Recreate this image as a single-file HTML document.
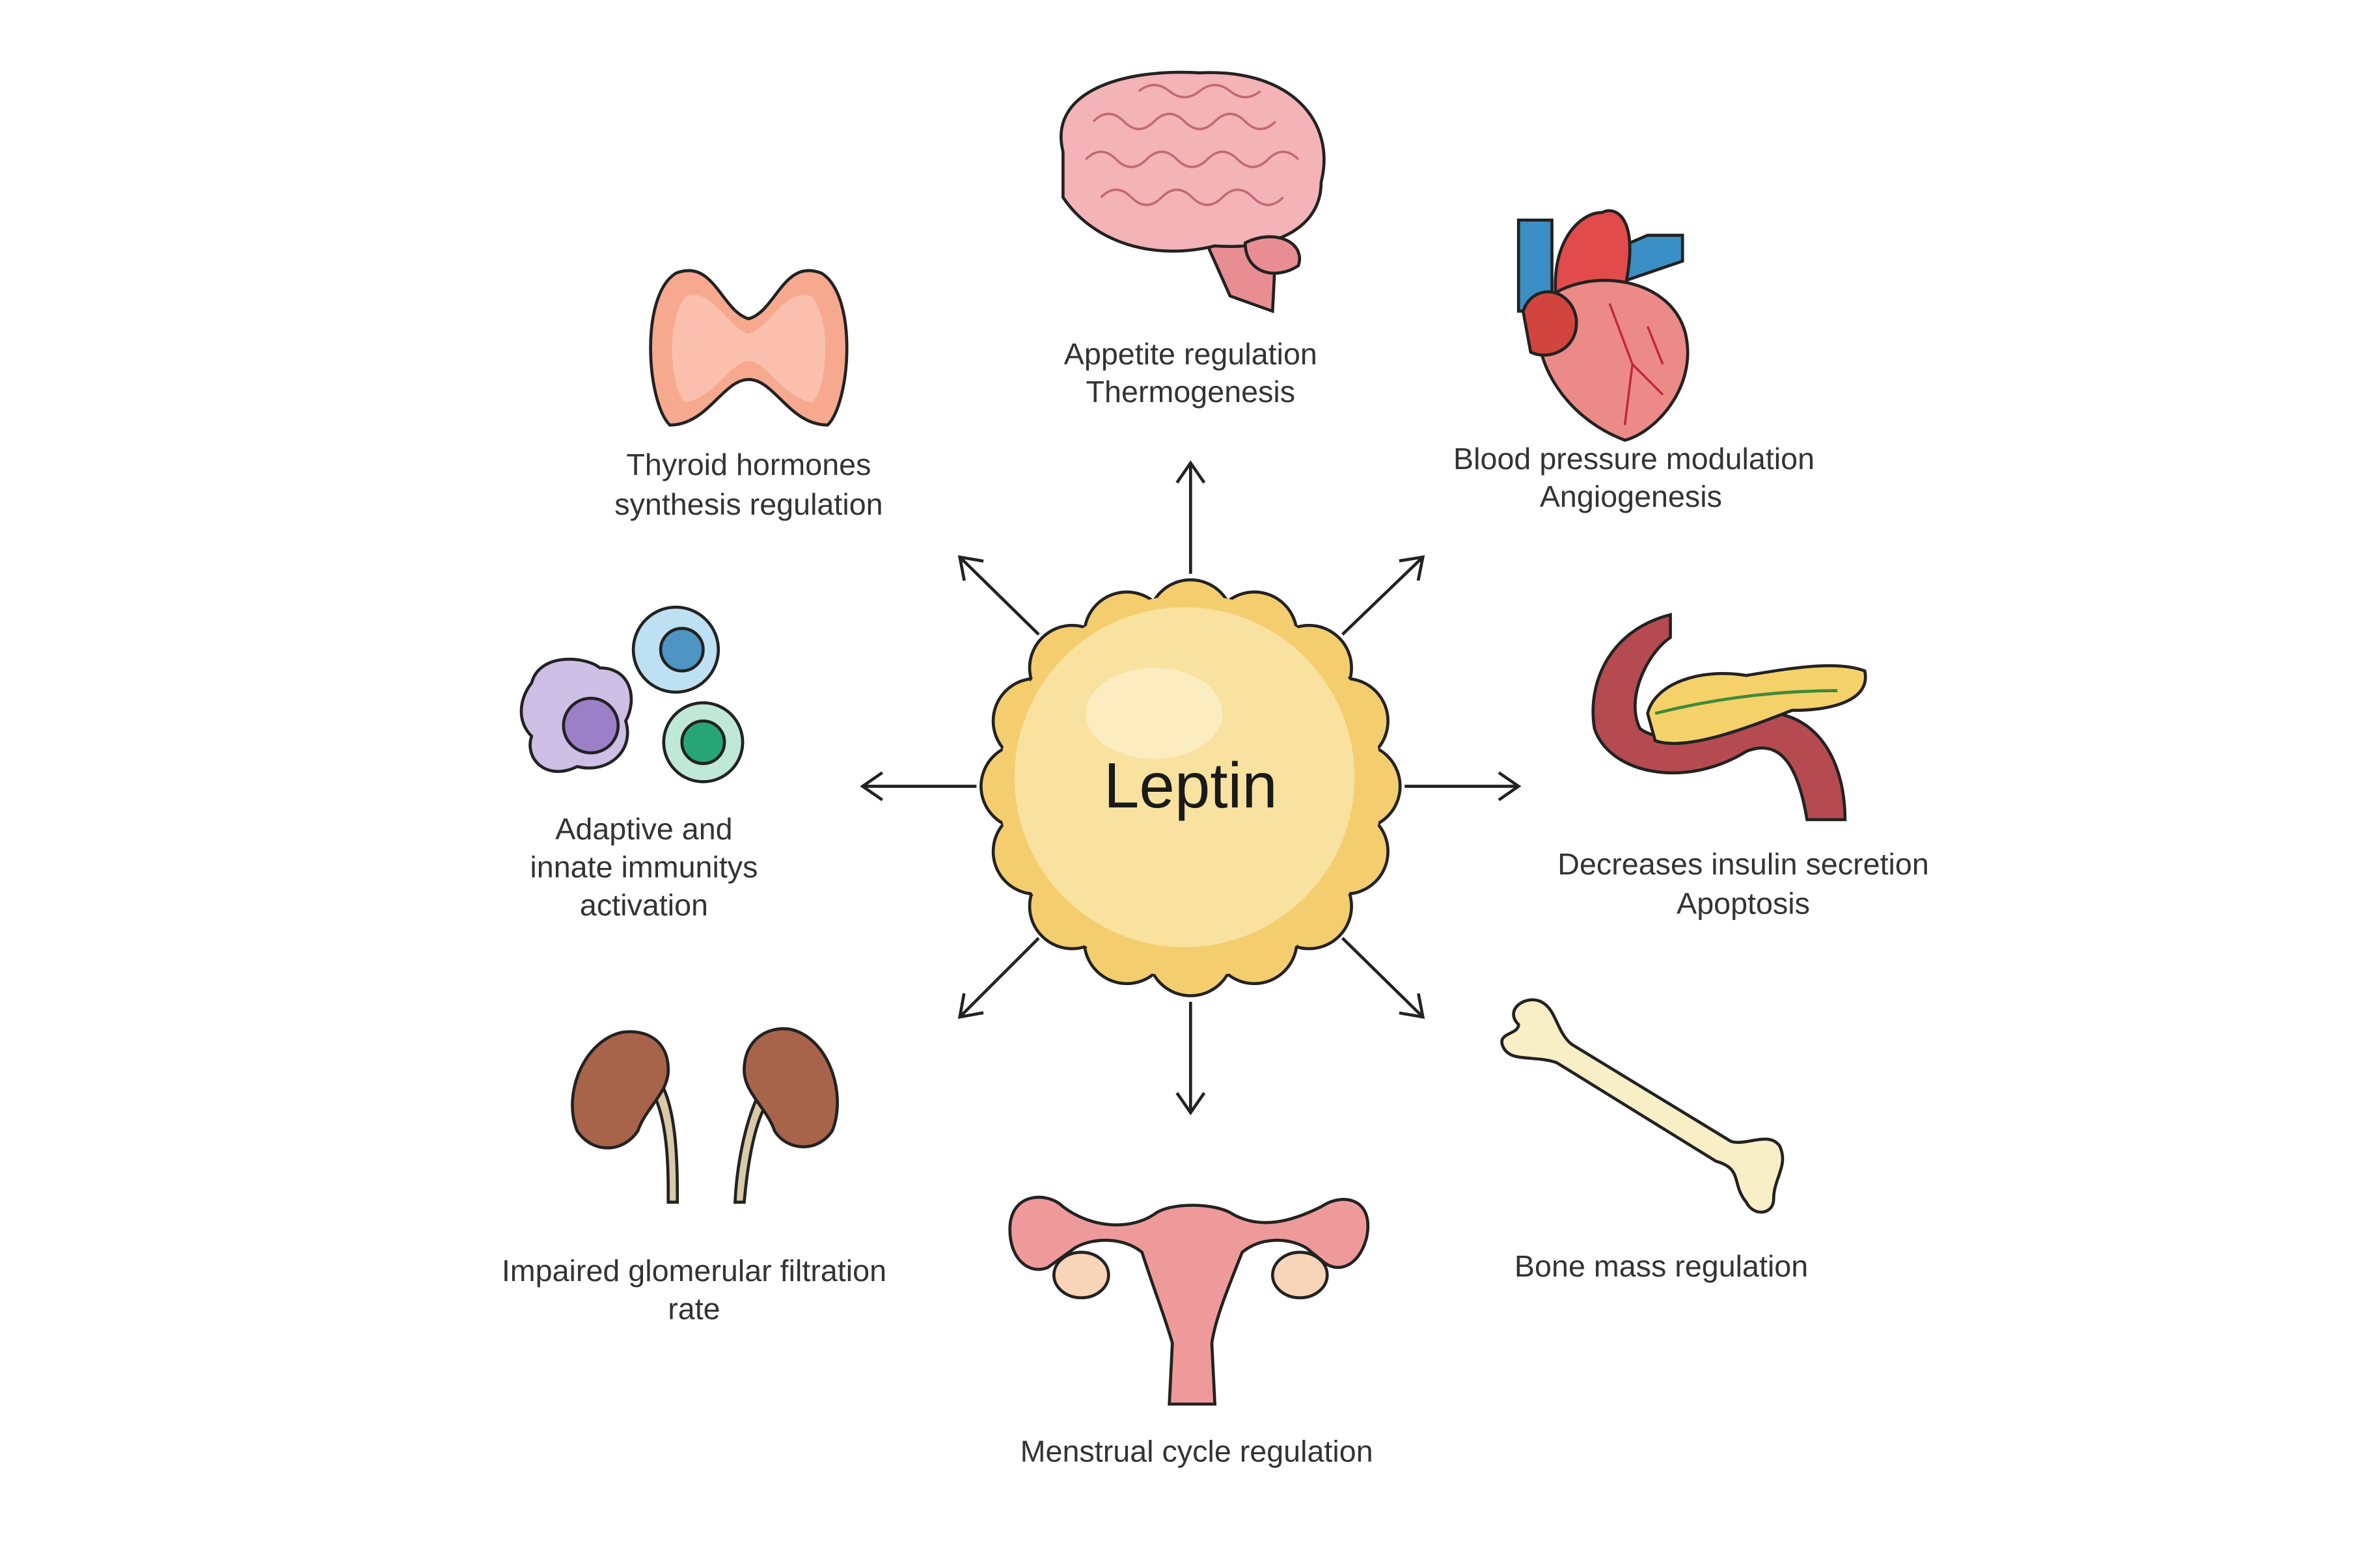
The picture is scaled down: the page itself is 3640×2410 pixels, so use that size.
<!DOCTYPE html>
<html><head><meta charset="utf-8"><style>
html,body{margin:0;padding:0;background:#fff}
svg{display:block}
text{font-family:"Liberation Sans",sans-serif;fill:#333;font-size:20px;text-anchor:middle;font-weight:300}
</style></head><body>
<svg width="3640" height="2410" viewBox="0 0 1560 1033" xmlns="http://www.w3.org/2000/svg">
<defs>
<marker id="ah" markerWidth="18" markerHeight="20" refX="15" refY="10" orient="auto" markerUnits="userSpaceOnUse">
<path d="M2,1 L15,10 L2,19" fill="none" stroke="#222" stroke-width="2"/></marker>
</defs>
<rect width="1560" height="1033" fill="#fff"/>
<g stroke="#222" stroke-width="2">
<g fill="#f4cd6e">
<circle cx="784" cy="518" r="112"/>
<circle cx="784" cy="410" r="28"/><circle cx="826" cy="418" r="28"/><circle cx="862" cy="440" r="28"/><circle cx="886" cy="475" r="28"/><circle cx="894" cy="518" r="28"/><circle cx="886" cy="561" r="28"/><circle cx="862" cy="597" r="28"/><circle cx="826" cy="620" r="28"/><circle cx="784" cy="628" r="28"/><circle cx="742" cy="620" r="28"/><circle cx="706" cy="597" r="28"/><circle cx="682" cy="561" r="28"/><circle cx="674" cy="518" r="28"/><circle cx="682" cy="475" r="28"/><circle cx="706" cy="440" r="28"/><circle cx="742" cy="418" r="28"/>
</g></g>
<circle cx="784" cy="518" r="126" fill="#f4cd6e"/>
<circle cx="780" cy="512" r="112" fill="#f9e2a0"/>
<ellipse cx="760" cy="470" rx="45" ry="30" fill="#fbedc0"/>
<text x="784" y="532" style="font-size:42px;font-weight:400;fill:#1a1a1a">Leptin</text>
<g stroke="#222" stroke-width="2" marker-end="url(#ah)">
<line x1="784" y1="378" x2="784" y2="305"/>
<line x1="784" y1="660" x2="784" y2="733"/>
<line x1="643" y1="518" x2="568" y2="518"/>
<line x1="925" y1="518" x2="1000" y2="518"/>
<line x1="684" y1="418" x2="632" y2="367"/>
<line x1="884" y1="418" x2="937" y2="367"/>
<line x1="684" y1="618" x2="632" y2="670"/>
<line x1="884" y1="618" x2="937" y2="670"/>
</g>
<g stroke="#222" stroke-width="2">
<path d="M790,150 L810,195 L838,205 L840,165 Z" fill="#e88e93"/>
<path d="M700,100 C690,60 740,45 790,48 C850,45 880,80 870,120 C870,150 840,165 800,162 C760,172 720,160 700,130 Z" fill="#f4b3b6"/>
<path d="M820,160 C840,150 860,160 855,175 C840,185 820,180 820,160Z" fill="#e88e93"/>
</g>
<g fill="none" stroke="#c06a70" stroke-width="1.5">
<path d="M720,80 q10,-10 20,0 t20,0 t20,0 t20,0 t20,0 t20,0"/>
<path d="M715,105 q10,-10 20,0 t20,0 t20,0 t20,0 t20,0 t20,0 t20,0"/>
<path d="M725,130 q10,-10 20,0 t20,0 t20,0 t20,0 t20,0 t20,0"/>
<path d="M750,60 q10,-8 20,0 t20,0 t20,0 t20,0"/>
</g>
<g stroke="#222" stroke-width="2" fill="#f6a98e">
<path d="M445,180 C470,170 475,205 493,210 C511,205 516,170 541,180 C565,195 560,265 545,280 C520,280 510,250 493,250 C476,250 466,280 441,280 C426,265 421,195 445,180Z"/>
</g>
<path d="M452,195 C470,190 478,215 493,220 C508,215 516,190 534,195 C548,210 545,255 535,265 C515,262 505,238 493,238 C481,238 471,262 451,265 C441,255 438,210 452,195Z" fill="#fbbfad"/>
<g stroke="#222" stroke-width="2">
<rect x="1000" y="145" width="22" height="60" fill="#3a8fc4"/>
<path d="M1050,170 L1085,155 L1108,155 L1108,172 L1070,185Z" fill="#3a8fc4"/>
<path d="M1025,200 C1020,160 1040,140 1055,140 C1065,135 1080,145 1070,190Z" fill="#e24b4b"/>
<path d="M1015,200 C1040,175 1100,180 1110,220 C1118,255 1090,285 1070,290 C1030,275 1005,235 1015,200Z" fill="#ec8a87"/>
<path d="M1003,205 C1010,185 1035,190 1038,210 C1040,230 1020,238 1008,232Z" fill="#d2453f"/>
</g>
<g fill="none" stroke="#c0283a" stroke-width="1.5"><path d="M1060,200 L1075,240 L1070,280 M1075,240 L1095,260 M1085,215 L1095,240"/></g>
<g stroke="#222" stroke-width="2">
<path d="M350,450 C355,430 385,432 395,440 C415,440 420,460 412,475 C418,495 400,510 380,505 C360,515 345,500 350,485 C340,475 342,460 350,450Z" fill="#cdbfe6"/>
<circle cx="389" cy="478" r="18" fill="#9b7fc7"/>
<circle cx="445" cy="428" r="28" fill="#bde0f2"/>
<circle cx="449" cy="428" r="14" fill="#4f95c4"/>
<circle cx="463" cy="489" r="26" fill="#bfe8d7"/>
<circle cx="463" cy="489" r="14" fill="#29a57a"/>
</g>
<g stroke="#222" stroke-width="2">
<path d="M1100,405 C1060,415 1045,450 1050,480 C1060,510 1110,520 1150,495 C1175,485 1185,510 1190,540 L1215,540 C1215,505 1200,475 1170,470 C1130,472 1100,495 1080,480 C1070,460 1085,430 1100,420Z" fill="#b54a50"/>
<path d="M1085,470 C1090,450 1120,440 1150,445 C1180,440 1210,435 1228,442 C1232,460 1210,468 1180,468 C1150,480 1110,495 1090,488Z" fill="#f4d269"/>
</g>
<path d="M1090,470 C1130,460 1170,455 1210,455" fill="none" stroke="#3f8a3a" stroke-width="2"/>
<g stroke="#222" stroke-width="2" fill="#f8efc6">
<path d="M1000,675 C990,665 1005,655 1015,660 C1025,665 1025,680 1035,688 L1140,752 C1150,755 1165,745 1172,755 C1178,768 1168,776 1168,790 C1168,800 1155,802 1150,792 C1140,780 1148,770 1130,765 L1025,700 C1010,695 995,700 990,690 C985,680 1000,682 1000,675Z"/>
</g>
<g stroke="#222" stroke-width="2">
<path d="M430,720 C440,740 440,770 440,792 L446,792 C446,770 446,735 436,715Z" fill="#d8c9a8"/>
<path d="M500,720 C490,740 485,770 484,792 L490,792 C492,770 496,740 506,725Z" fill="#d8c9a8"/>
<path d="M410,680 C385,685 370,720 380,745 C390,760 410,760 420,745 C425,730 440,720 440,705 C440,685 425,678 410,680Z" fill="#a8644a"/>
<path d="M520,678 C545,683 558,720 548,745 C538,760 518,758 510,745 C505,730 490,720 490,705 C490,685 505,676 520,678Z" fill="#a8644a"/>
</g>
<g stroke="#222" stroke-width="2">
<path d="M665,810 C665,785 690,785 700,795 C720,810 745,810 760,800 C770,792 800,792 812,800 C830,810 850,805 870,795 C885,785 905,790 900,815 C895,835 880,840 870,830 L860,822 C848,815 830,815 818,825 C808,850 800,870 798,885 L800,925 L770,925 L772,885 C768,870 760,850 752,825 C740,815 720,815 708,822 L690,835 C678,840 665,830 665,810Z" fill="#ee9a9a"/>
<ellipse cx="712" cy="840" rx="18" ry="15" fill="#f8d4b8"/>
<ellipse cx="856" cy="840" rx="18" ry="15" fill="#f8d4b8"/>
</g>
<text x="784" y="240">Appetite regulation</text>
<text x="784" y="265">Thermogenesis</text>
<text x="493" y="313">Thyroid hormones</text>
<text x="493" y="339">synthesis regulation</text>
<text x="1076" y="309">Blood pressure modulation</text>
<text x="1074" y="334">Angiogenesis</text>
<text x="424" y="553">Adaptive and</text>
<text x="424" y="578">innate immunitys</text>
<text x="424" y="603">activation</text>
<text x="1148" y="576">Decreases insulin secretion</text>
<text x="1148" y="602">Apoptosis</text>
<text x="457" y="844">Impaired glomerular filtration</text>
<text x="457" y="869">rate</text>
<text x="1094" y="841">Bone mass regulation</text>
<text x="788" y="963">Menstrual cycle regulation</text>
</svg>
</body></html>
